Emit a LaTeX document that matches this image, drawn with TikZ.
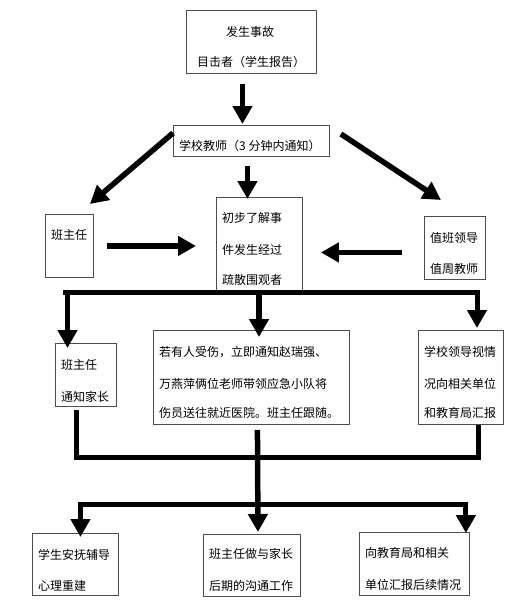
\documentclass[tikz,border=0pt]{standalone}
\usepackage{fontspec}
\setmainfont{Noto Sans CJK SC}
\usetikzlibrary{arrows.meta,calc}
\begin{document}
\begin{tikzpicture}[x=1pt,y=-1pt,
  box/.style={draw=black!70, line width=0.9pt, inner sep=0pt, anchor=north west, fill=none},
  txt/.style={anchor=west, inner sep=0pt, font=\fontsize{12}{12}\selectfont},
  tip/.tip={Triangle[width=19pt,length=18pt]},
  arr/.style={line width=5.5pt, -tip},
  bus/.style={line width=5pt, line join=miter}]
\useasboundingbox (0,0) rectangle (526,600);
% boxes
\node[box, minimum width=130pt, minimum height=63pt] (acc) at (186,10) {};
\node[box, minimum width=156pt, minimum height=31pt] (tea) at (173,125) {};
\node[box, minimum width=86pt, minimum height=93pt] (mid) at (216,197) {};
\node[box, minimum width=48pt, minimum height=63pt] (bzr) at (45,214) {};
\node[box, minimum width=61pt, minimum height=63pt] (zb) at (424,216) {};
\node[box, minimum width=61pt, minimum height=63pt] (tz) at (55,343) {};
\node[box, minimum width=196pt, minimum height=94pt] (inj) at (153,330) {};
\node[box, minimum width=85pt, minimum height=94pt] (lead) at (418,330) {};
\node[box, minimum width=86pt, minimum height=62pt] (psy) at (32,533) {};
\node[box, minimum width=97pt, minimum height=62pt] (com) at (203,534) {};
\node[box, minimum width=110pt, minimum height=63pt] (rep) at (359,532) {};
% texts
\node[txt] (acc1) at (226,32) {发生事故};
\node[txt] (acc2) at (197,62) {目击者（学生报告）};
\node[txt] (tea1) at (179,146) {学校教师（3 分钟内通知）};
\node[txt] (mid1) at (222,218) {初步了解事};
\node[txt] (mid2) at (222,250) {件发生经过};
\node[txt] (mid3) at (222,280) {疏散围观者};
\node[txt] (bzr1) at (51,235) {班主任};
\node[txt] (zb1) at (430,238) {值班领导};
\node[txt] (zb2) at (430,269) {值周教师};
\node[txt] (tz1) at (61,365) {班主任};
\node[txt] (tz2) at (61,397) {通知家长};
\node[txt] (inj1) at (159,352) {若有人受伤，立即通知赵瑞强、};
\node[txt] (inj2) at (159,384) {万燕萍俩位老师带领应急小队将};
\node[txt] (inj3) at (159,413) {伤员送往就近医院。班主任跟随。};
\node[txt] (lead1) at (424,352) {学校领导视情};
\node[txt] (lead2) at (424,384) {况向相关单位};
\node[txt] (lead3) at (424,413) {和教育局汇报};
\node[txt] (psy1) at (38,555) {学生安抚辅导};
\node[txt] (psy2) at (38,586) {心理重建};
\node[txt] (com1) at (209,554) {班主任做与家长};
\node[txt] (com2) at (209,586) {后期的沟通工作};
\node[txt] (rep1) at (365,553) {向教育局和相关};
\node[txt] (rep2) at (365,585) {单位汇报后续情况};
% upper arrows
\draw[arr] ($(acc.south)+(-9,10)$) -- ($(tea.north)+(-9,-1)$);
\draw[arr] ($(tea.north west)+(0,8)$) -- ($(bzr.north east)+(-4,-10)$);
\draw[arr] ($(tea.north east)+(11,9)$) -- ($(zb.north west)+(17,-16)$);
\draw[arr] ($(tea.south)+(-4,9)$) -- ($(mid.north)+(-12,2)$);
\draw[arr] ($(bzr.east)+(13,0)$) -- ($(mid.west)+(-20,2)$);
\draw[arr] ($(zb.west)+(-22,4.5)$) -- ($(mid.east)+(18,8.5)$);
% first bus
\coordinate (b1L) at (63,292);
\coordinate (b1R) at (477,292);
\draw[bus, -tip] (b1L) -- (b1R) -- ($(lead.north -| b1R)+(0,-2)$);
\draw[arr] ($(b1L)+(4.5,0)$) -- ($(tz.north -| b1L)+(4.5,5)$);
\draw[arr] ($(b1L)+(196,0)$) -- ($(inj.north -| b1L)+(196,7)$);
% second bus
\coordinate (b2L) at (76,410);
\coordinate (b2R) at (478,425);
\coordinate (b2y) at (0,457);
\draw[bus] (b2L) -- (b2L |- b2y) -- (b2R |- b2y) -- (b2R);
\draw[arr] ($(inj.south)+(6,5)$) -- ($(com.north)+(6,-2)$);
% third bus
\coordinate (b3y) at (0,504);
\coordinate (b3L) at ($(psy.north)+(5,4)$);
\coordinate (b3R) at ($(rep.north east)+(-4,1)$);
\draw[bus, tip-tip] (b3L) -- (b3L |- b3y) -- (b3R |- b3y) -- (b3R);
\end{tikzpicture}
\end{document}
